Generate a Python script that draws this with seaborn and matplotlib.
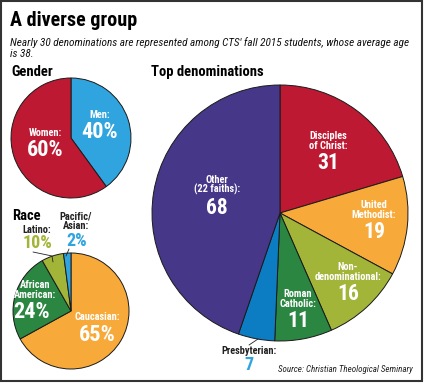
import seaborn as sns
import matplotlib.pyplot as plt
from matplotlib.patches import Rectangle

# figure is laid out in pixel units (y measured from the top)
W, H = 424, 383

# gender
gender_labels = ["Men:", "Women:"]
gender_pct = [40, 60]

# race - wedges as drawn (the Latino wedge is drawn smaller than its 10% label)
race_labels = ["Caucasian:", "African\nAmerican:", "Latino:", "Pacific/\nAsian:"]
race_pct = [65, 24, 10, 2]
race_wedge = [65, 24, 6, 2]

# top denominations (student counts)
denom_labels = ["Disciples\nof Christ:", "United\nMethodist:", "Non-\ndenominational:",
                "Roman\nCatholic:", "Presbyterian:", "Other\n(22 faiths):"]
denom_counts = [31, 19, 16, 11, 7, 68]

red = "#BE1932"
blue = "#2FA4DE"
purple = "#463789"
orange = "#F7AA3A"
lime = "#A3B538"
green = "#2B8641"
dblue = "#0C7DC2"

sns.set_theme(style="white")
plt.rcParams["font.family"] = ["Roboto Condensed", "Liberation Sans", "DejaVu Sans"]

fig = plt.figure(figsize=(W / 100, H / 100), dpi=100)
ax = fig.add_axes([0, 0, 1, 1])


def txt(x, y, s, size, color="white", weight="bold", ha="center", va="center", **kw):
    ax.text(x, H - y, s, fontsize=size, color=color, fontweight=weight,
            ha=ha, va=va, linespacing=0.95, **kw)


edge = dict(edgecolor="#1a1a1a", linewidth=0.7)

ax.pie(gender_pct, colors=sns.color_palette([blue, red]), startangle=90, counterclock=False,
       center=(71, H - 138), radius=60, wedgeprops=edge)
ax.pie(race_wedge, colors=sns.color_palette([orange, green, lime, blue]), startangle=90,
       counterclock=False, center=(71, H - 311), radius=58, wedgeprops=edge)
ax.pie(denom_counts, colors=sns.color_palette([red, orange, lime, green, dblue, purple]),
       startangle=90, counterclock=False, center=(280, H - 213), radius=128, wedgeprops=edge)

# headings
txt(10, 26, "A diverse group", 14.5, color="black", weight="heavy", ha="left", va="baseline")
txt(10, 46, "Nearly 30 denominations are represented among CTS' fall 2015 students, whose average age",
    8.1, color="#111111", weight="normal", ha="left", va="baseline", style="italic")
txt(10, 57, "is 38.", 8.1, color="#111111", weight="normal", ha="left", va="baseline", style="italic")
txt(11, 76, "Gender", 10.5, color="black", weight="heavy", ha="left", va="baseline")
txt(151, 76, "Top denominations", 10.5, color="black", weight="heavy", ha="left", va="baseline")
txt(12, 220, "Race", 10.5, color="black", weight="heavy", ha="left", va="baseline")

# gender labels
txt(100, 115, gender_labels[0], 7.5)
txt(100, 132, f"{gender_pct[0]}%", 16, weight="heavy")
txt(45, 133, gender_labels[1], 7.5)
txt(45, 150, f"{gender_pct[1]}%", 16, weight="heavy")

# race labels
txt(97, 317, race_labels[0], 7.5)
txt(97, 335, f"{race_pct[0]}%", 16, weight="heavy")
txt(35, 290, race_labels[1], 7.5)
txt(32, 312, f"{race_pct[1]}%", 16, weight="heavy")
txt(37, 230, race_labels[2], 7.5, color="#222222")
txt(37, 243, f"{race_pct[2]}%", 13, color=lime, weight="heavy")
txt(76, 221, race_labels[3], 7.5, color="#222222")
txt(77, 241, f"{race_pct[3]}%", 13, color=blue, weight="heavy")
ax.plot([33, 52, 53], [H - 252, H - 256, H - 262], color="#222222", lw=0.6)
ax.plot([69, 66], [H - 249, H - 256], color="#222222", lw=0.6)

# denomination labels
denom_pos = [(328, 141, 163), (374, 210, 232), (348, 272, 294),
             (298, 299, 321), (249, 351, 365), (217, 185, 208)]
for lab, n, (x, yl, yn) in zip(denom_labels, denom_counts, denom_pos):
    if lab.startswith("Presbyterian"):
        txt(x, yl, lab, 7.5, color="#222222")
        txt(x, yn, str(n), 13, color=blue, weight="heavy")
    else:
        txt(x, yl, lab, 7.5)
        txt(x, yn, str(n), 15.5, weight="heavy")
ax.plot([249, 258], [H - 345, H - 339], color="#222222", lw=0.6)

txt(413, 369, "Source: Christian Theological Seminary", 6.5, color="#222222",
    weight="normal", ha="right", style="italic")

ax.add_patch(Rectangle((1, H - 381), 421, 380, fill=False, edgecolor="#333333", linewidth=1.5))

ax.set_xlim(0, W)
ax.set_ylim(0, H)
ax.set_aspect("equal")
ax.axis("off")

fig.savefig("out.png", dpi=100)
